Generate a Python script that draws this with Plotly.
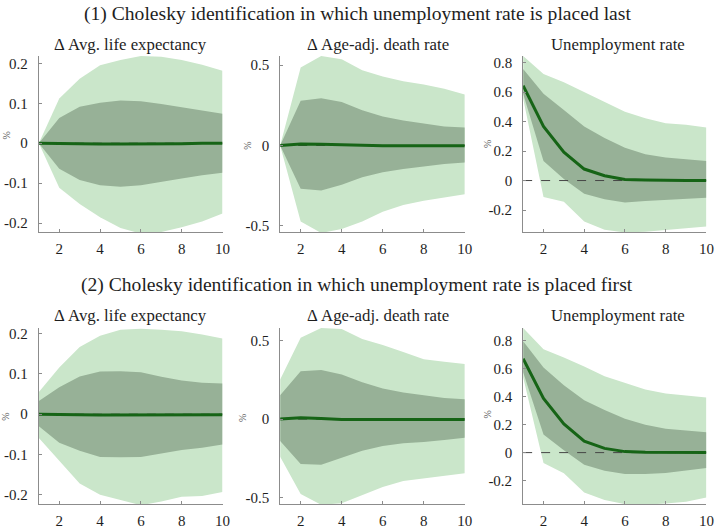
import plotly.graph_objects as go

W, H = 722, 529
horizon = [1, 2, 3, 4, 5, 6, 7, 8, 9, 10]

row_titles = [
    "(1) Cholesky identification in which unemployment rate is placed last",
    "(2) Cholesky identification in which unemployment rate is placed first",
]
panel_titles = ["Δ Avg. life expectancy", "Δ Age-adj. death rate", "Unemployment rate"]

# ---- Row 1: unemployment placed last ----
le1_irf = [0.0, -0.001, -0.001, -0.002, -0.002, -0.002, -0.001, -0.001, 0.0, 0.0]
le1_hi90 = [0.0, 0.112, 0.161, 0.195, 0.208, 0.218, 0.216, 0.208, 0.196, 0.181]
le1_lo90 = [0.0, -0.111, -0.152, -0.185, -0.212, -0.226, -0.222, -0.210, -0.196, -0.176]
le1_hi68 = [0.0, 0.063, 0.091, 0.101, 0.107, 0.105, 0.098, 0.090, 0.081, 0.074]
le1_lo68 = [0.0, -0.064, -0.092, -0.105, -0.109, -0.105, -0.096, -0.088, -0.080, -0.074]

dr1_irf = [0.0, 0.010, 0.008, 0.004, 0.0, -0.002, -0.002, -0.002, -0.002, -0.002]
dr1_hi90 = [0.0, 0.486, 0.557, 0.537, 0.469, 0.429, 0.400, 0.380, 0.353, 0.318]
dr1_lo90 = [0.0, -0.473, -0.545, -0.520, -0.473, -0.412, -0.371, -0.345, -0.324, -0.304]
dr1_hi68 = [0.0, 0.278, 0.294, 0.271, 0.220, 0.180, 0.155, 0.135, 0.118, 0.112]
dr1_lo68 = [0.0, -0.269, -0.280, -0.245, -0.198, -0.167, -0.147, -0.131, -0.116, -0.106]

ur1_irf = [0.644, 0.367, 0.193, 0.078, 0.033, 0.007, 0.003, 0.0, 0.0, 0.0]
ur1_hi90 = [0.844, 0.722, 0.667, 0.600, 0.533, 0.467, 0.422, 0.389, 0.378, 0.360]
ur1_lo90 = [0.556, -0.111, -0.144, -0.278, -0.333, -0.352, -0.347, -0.333, -0.322, -0.311]
ur1_hi68 = [0.756, 0.589, 0.478, 0.367, 0.289, 0.222, 0.178, 0.156, 0.144, 0.133]
ur1_lo68 = [0.589, 0.133, 0.011, -0.089, -0.127, -0.149, -0.138, -0.129, -0.122, -0.116]

# ---- Row 2: unemployment placed first ----
le2_irf = [0.0, 0.0, -0.001, -0.002, -0.002, -0.002, -0.002, -0.001, -0.001, -0.001]
le2_hi90 = [0.055, 0.116, 0.167, 0.195, 0.210, 0.212, 0.210, 0.206, 0.198, 0.188]
le2_lo90 = [-0.059, -0.115, -0.172, -0.200, -0.213, -0.226, -0.217, -0.205, -0.203, -0.193]
le2_hi68 = [0.033, 0.067, 0.094, 0.106, 0.107, 0.104, 0.093, 0.084, 0.078, 0.076]
le2_lo68 = [-0.030, -0.071, -0.091, -0.106, -0.107, -0.106, -0.098, -0.089, -0.083, -0.075]

dr2_irf = [0.0, 0.008, 0.004, -0.002, -0.002, -0.002, -0.002, -0.002, -0.002, -0.002]
dr2_hi90 = [0.252, 0.517, 0.579, 0.573, 0.510, 0.471, 0.427, 0.381, 0.365, 0.350]
dr2_lo90 = [-0.240, -0.477, -0.545, -0.535, -0.483, -0.431, -0.394, -0.379, -0.362, -0.344]
dr2_hi68 = [0.152, 0.304, 0.313, 0.283, 0.235, 0.194, 0.169, 0.152, 0.135, 0.127]
dr2_lo68 = [-0.140, -0.285, -0.290, -0.244, -0.202, -0.171, -0.154, -0.146, -0.133, -0.119]

ur2_irf = [0.671, 0.386, 0.204, 0.082, 0.030, 0.007, 0.002, 0.0, 0.0, 0.0]
ur2_hi90 = [0.889, 0.737, 0.678, 0.615, 0.545, 0.498, 0.451, 0.421, 0.405, 0.393]
ur2_lo90 = [0.538, -0.075, -0.147, -0.285, -0.339, -0.368, -0.372, -0.363, -0.351, -0.320]
ur2_hi68 = [0.795, 0.608, 0.480, 0.374, 0.304, 0.241, 0.199, 0.171, 0.157, 0.145]
ur2_lo68 = [0.573, 0.129, 0.016, -0.087, -0.129, -0.152, -0.152, -0.145, -0.129, -0.110]

# y-axis ranges and ticks
y_ranges = [
    [-0.222, 0.218], [-0.539, 0.557], [-0.349, 0.844],
    [-0.223, 0.214], [-0.540, 0.579], [-0.367, 0.889],
]
yt_le = [-0.2, -0.1, 0, 0.1, 0.2]
yt_le_text = ["-0.2", "-0.1", "0", "0.1", "0.2"]
yt_dr = [-0.5, 0, 0.5]
yt_dr_text = ["-0.5", "0", "0.5"]
yt_ur = [-0.2, 0, 0.2, 0.4, 0.6, 0.8]
yt_ur_text = ["-0.2", "0", "0.2", "0.4", "0.6", "0.8"]
xt = [2, 4, 6, 8, 10]
xt_text = ["2", "4", "6", "8", "10"]

panels = [
    (le1_irf, le1_hi90, le1_lo90, le1_hi68, le1_lo68, yt_le, yt_le_text),
    (dr1_irf, dr1_hi90, dr1_lo90, dr1_hi68, dr1_lo68, yt_dr, yt_dr_text),
    (ur1_irf, ur1_hi90, ur1_lo90, ur1_hi68, ur1_lo68, yt_ur, yt_ur_text),
    (le2_irf, le2_hi90, le2_lo90, le2_hi68, le2_lo68, yt_le, yt_le_text),
    (dr2_irf, dr2_hi90, dr2_lo90, dr2_hi68, dr2_lo68, yt_dr, yt_dr_text),
    (ur2_irf, ur2_hi90, ur2_lo90, ur2_hi68, ur2_lo68, yt_ur, yt_ur_text),
]

LIGHT = "rgb(202,230,202)"
DARK = "rgb(151,177,151)"
LINE = "rgb(22,100,22)"
AXIS = "rgb(140,140,140)"
TXT = "rgb(30,30,30)"
FONT = "Liberation Serif"

# pixel geometry -> paper domains
col_px = [(39.3, 225.0), (283.3, 470.0), (529.0, 714.3)]
row_px = [(55.0, 234.0), (331.7, 510.7)]

fig = go.Figure()
layout = {}
for i, (irf, hi90, lo90, hi68, lo68, ytv, ytt) in enumerate(panels):
    r, c = divmod(i, 3)
    idx = "" if i == 0 else str(i + 1)
    xa, ya = "x" + idx, "y" + idx
    xs = horizon + horizon[::-1]
    fig.add_trace(go.Scatter(x=xs, y=hi90 + lo90[::-1], fill="toself", fillcolor=LIGHT,
                             line=dict(width=0), mode="lines", hoverinfo="skip",
                             showlegend=False, xaxis=xa, yaxis=ya))
    fig.add_trace(go.Scatter(x=xs, y=hi68 + lo68[::-1], fill="toself", fillcolor=DARK,
                             line=dict(width=0), mode="lines", hoverinfo="skip",
                             showlegend=False, xaxis=xa, yaxis=ya))
    fig.add_trace(go.Scatter(x=[horizon[0], horizon[-1]], y=[0, 0], mode="lines",
                             line=dict(color="rgb(70,70,70)", width=1, dash="dash"),
                             showlegend=False, xaxis=xa, yaxis=ya, hoverinfo="skip"))
    fig.add_trace(go.Scatter(x=horizon, y=irf, mode="lines",
                             line=dict(color=LINE, width=3), showlegend=False,
                             xaxis=xa, yaxis=ya))
    x0, x1 = col_px[c]
    y0, y1 = row_px[r]
    common = dict(showline=True, linecolor=AXIS, linewidth=1, ticks="inside",
                  ticklen=3, tickcolor=AXIS, showgrid=False, zeroline=False,
                  tickfont=dict(family=FONT, size=15, color=TXT), mirror=False)
    layout["xaxis" + idx] = dict(domain=[x0 / W, x1 / W], anchor=ya, range=[1, 10],
                                 tickvals=xt, ticktext=xt_text, ticklabelstandoff=3,
                                 **common)
    layout["yaxis" + idx] = dict(domain=[1 - y1 / H, 1 - y0 / H], anchor=xa,
                                 range=y_ranges[i], tickvals=ytv, ticktext=ytt,
                                 ticklabelstandoff=7, **common)

fig.update_layout(**layout)

annotations = []
# row titles
for r, (t, ypx) in enumerate(zip(row_titles, [12.5, 288.0])):
    annotations.append(dict(text=t, x=0.5, y=1 - ypx / H, xref="paper", yref="paper",
                            showarrow=False, xanchor="center", yanchor="middle",
                            font=dict(family=FONT, size=19.6, color=TXT)))
# panel titles
title_x = [132.0, 382.0, 625.0]
for r, ypx in enumerate([43.3, 319.3]):
    for c in range(3):
        annotations.append(dict(text=panel_titles[c], x=title_x[c] / W, y=1 - ypx / H,
                                xref="paper", yref="paper", showarrow=False,
                                xanchor="center", yanchor="middle",
                                font=dict(family=FONT, size=16.8, color=TXT)))
# % labels
pct_pos = [(7, 136), (250, 146), (493, 145), (6, 422), (246, 423), (493, 420)]
for (px, py) in pct_pos:
    annotations.append(dict(text="%", x=px / W, y=1 - py / H, xref="paper", yref="paper",
                            showarrow=False, textangle=-90, xanchor="center",
                            yanchor="middle",
                            font=dict(family=FONT, size=10, color="rgb(90,90,90)")))

fig.update_layout(width=W, height=H, margin=dict(l=0, r=0, t=0, b=0),
                  paper_bgcolor="white", plot_bgcolor="white",
                  annotations=annotations, showlegend=False)

fig.write_html("out.html", config={"displayModeBar": False},
               post_script="document.body.style.margin='0px';document.body.style.overflow='hidden';")
